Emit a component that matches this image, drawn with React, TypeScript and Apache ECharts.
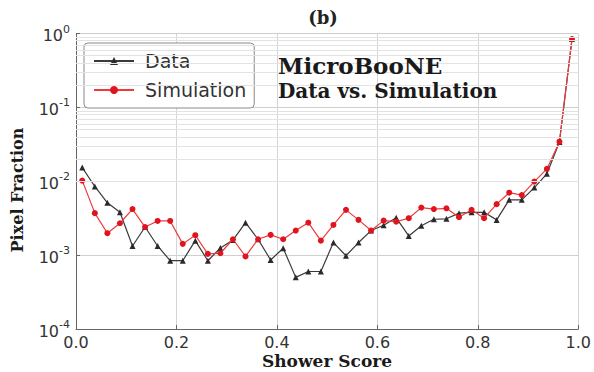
import React, { useEffect, useRef } from "react";
import * as echarts from "echarts";

// Bin centres of the shower score histogram
const SCORES = [
  0.0125, 0.0375, 0.0625, 0.0875, 0.1125, 0.1375, 0.1625, 0.1875, 0.2125, 0.2375,
  0.2625, 0.2875, 0.3125, 0.3375, 0.3625, 0.3875, 0.4125, 0.4375, 0.4625, 0.4875,
  0.5125, 0.5375, 0.5625, 0.5875, 0.6125, 0.6375, 0.6625, 0.6875, 0.7125, 0.7375,
  0.7625, 0.7875, 0.8125, 0.8375, 0.8625, 0.8875, 0.9125, 0.9375, 0.9625, 0.9875,
];

const DATA_FRAC = [
  0.0153, 0.0085, 0.0051, 0.0038, 0.00133, 0.0024, 0.00133, 0.00084, 0.00084, 0.00157,
  0.00084, 0.00125, 0.0016, 0.00275, 0.00164, 0.00086, 0.00124, 0.0005, 0.0006, 0.0006,
  0.00148, 0.00098, 0.00148, 0.00215, 0.00254, 0.0032, 0.00182, 0.0025, 0.00306, 0.0031,
  0.0037, 0.0038, 0.0038, 0.003, 0.0056, 0.0056, 0.0082, 0.0126, 0.034, 0.84,
];

const SIM_FRAC = [
  0.0102, 0.0037, 0.00198, 0.0027, 0.0042, 0.0024, 0.0029, 0.0029, 0.00142, 0.00186,
  0.00104, 0.00106, 0.00164, 0.00096, 0.00164, 0.00188, 0.00164, 0.00215, 0.00275, 0.00157,
  0.00256, 0.0041, 0.003, 0.00215, 0.00293, 0.00284, 0.00316, 0.0044, 0.0042, 0.0043,
  0.00326, 0.0041, 0.00316, 0.0049, 0.007, 0.0065, 0.0099, 0.0147, 0.0343, 0.84,
];

const SERIES_NAMES = ["Data", "Simulation"];
const X_TICKS = [0, 0.2, 0.4, 0.6, 0.8, 1.0];
const MINOR_MULTIPLIERS = [2, 3, 4, 5, 6, 7, 8, 9];
const DECADES = [1e-4, 1e-3, 1e-2, 1e-1];

export default function App() {
  const ref = useRef<HTMLDivElement>(null);

  useEffect(() => {
    document.body.style.margin = "0";
    if (!ref.current) return;
    const chart = echarts.init(ref.current, null, { renderer: "svg" });

    const minorLines: { yAxis: number }[] = [];
    DECADES.forEach((d) =>
      MINOR_MULTIPLIERS.forEach((m) => minorLines.push({ yAxis: d * m }))
    );

    const serif = "DejaVu Serif";
    const sans = "DejaVu Sans";

    chart.setOption({
      animation: false,
      backgroundColor: "#ffffff",
      grid: { left: 76, right: 15, top: 33.5, bottom: 43, containLabel: false },
      xAxis: {
        type: "value",
        min: X_TICKS[0],
        max: X_TICKS[X_TICKS.length - 1],
        interval: 0.2,
        axisLine: { show: true, onZero: false, lineStyle: { color: "#666", width: 1 } },
        axisTick: { show: true, inside: true, length: 4, lineStyle: { color: "#666" } },
        axisLabel: {
          color: "#333",
          fontFamily: sans,
          fontSize: 16,
          margin: 5,
          formatter: (v: number) => v.toFixed(1),
        },
        splitLine: { show: true, lineStyle: { color: "#d4d4d4", width: 1 } },
      },
      yAxis: {
        type: "log",
        logBase: 10,
        min: 1e-4,
        max: 1,
        axisLine: { show: true, lineStyle: { color: "#666", width: 1 } },
        axisTick: { show: true, inside: true, length: 4, lineStyle: { color: "#666" } },
        axisLabel: {
          showMinLabel: true,
          showMaxLabel: true,
          margin: 6,
          formatter: (v: number) => {
            const e = Math.round(Math.log10(v));
            return `{b|10}{s|${e}}`;
          },
          rich: {
            b: { fontSize: 16, fontFamily: sans, color: "#333", lineHeight: 20, verticalAlign: "bottom" },
            s: { fontSize: 11, fontFamily: sans, color: "#333", lineHeight: 11, verticalAlign: "top" },
          },
        },
        splitLine: { show: true, lineStyle: { color: "#cfcfcf", width: 1 } },
      },
      legend: {
        data: SERIES_NAMES,
        orient: "vertical",
        left: 84,
        top: 43,
        padding: [7, 8, 7, 9],
        itemGap: 7,
        itemWidth: 40,
        itemHeight: 10,
        backgroundColor: "#ffffff",
        borderColor: "#8a8a8a",
        borderWidth: 1,
        borderRadius: 4,
        formatter: (name: string) => " " + name,
        textStyle: {
          fontFamily: sans,
          fontSize: 19,
          color: "#333",
          lineHeight: 22,
        },
      },
      graphic: [
        {
          type: "text",
          x: 323,
          y: 17,
          style: {
            text: "(b)",
            font: `bold 18px "${serif}"`,
            fill: "#222",
            textAlign: "center",
            textVerticalAlign: "middle",
          },
        },
        {
          type: "text",
          x: 278,
          y: 65,
          z: 100,
          style: {
            text: "MicroBooNE",
            font: `bold 23px "${serif}"`,
            fill: "#1a1a1a",
            textAlign: "left",
            textVerticalAlign: "middle",
          },
        },
        {
          type: "text",
          x: 278,
          y: 91,
          z: 100,
          style: {
            text: "Data vs. Simulation",
            font: `bold 20px "${serif}"`,
            fill: "#1a1a1a",
            textAlign: "left",
            textVerticalAlign: "middle",
          },
        },
        {
          type: "text",
          x: 327,
          y: 361,
          style: {
            text: "Shower Score",
            font: `bold 17px "${serif}"`,
            fill: "#1a1a1a",
            textAlign: "center",
            textVerticalAlign: "middle",
          },
        },
        {
          type: "text",
          x: 17,
          y: 190,
          rotation: Math.PI / 2,
          style: {
            text: "Pixel Fraction",
            font: `bold 16px "${serif}"`,
            fill: "#1a1a1a",
            textAlign: "center",
            textVerticalAlign: "middle",
          },
        },
      ],
      series: [
        {
          name: "minor-grid",
          type: "line",
          data: [],
          silent: true,
          z: 1,
          markLine: {
            silent: true,
            symbol: ["none", "none"],
            label: { show: false },
            lineStyle: { color: "#e3e3e3", type: "solid", width: 1 },
            data: minorLines,
          },
        },
        {
          name: SERIES_NAMES[0],
          type: "line",
          z: 3,
          data: SCORES.map((x, i) => [x, DATA_FRAC[i]]),
          symbol: "triangle",
          symbolSize: 6,
          color: "#2a2a2a",
          itemStyle: { color: "#2a2a2a" },
          lineStyle: { color: "#3a3a3a", width: 1.2 },
        },
        {
          name: SERIES_NAMES[1],
          type: "line",
          z: 4,
          data: SCORES.map((x, i) => [x, SIM_FRAC[i]]),
          symbol: "circle",
          symbolSize: 6,
          color: "#e0141e",
          itemStyle: { color: "#e0141e" },
          lineStyle: { color: "#ee3a3a", width: 1.2 },
        },
      ],
    });

    return () => chart.dispose();
  }, []);

  return <div ref={ref} style={{ width: 594, height: 372 }} />;
}
